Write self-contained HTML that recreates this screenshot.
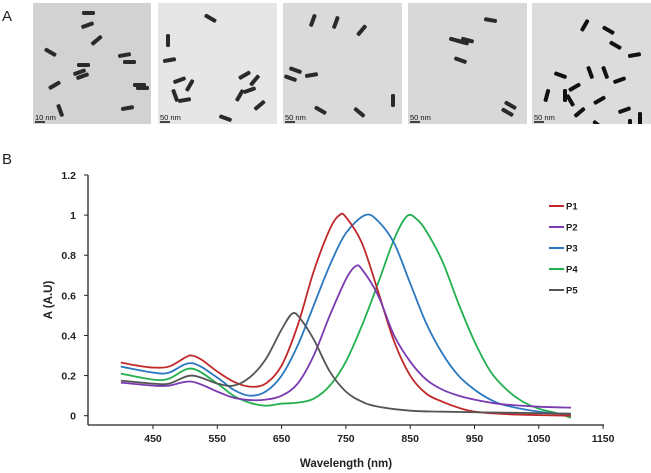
<!DOCTYPE html>
<html><head><meta charset="utf-8"><style>
body{margin:0;background:#fff;width:651px;height:473px;overflow:hidden;font-family:"Liberation Sans",Arial,sans-serif}
svg{display:block}
</style></head><body>
<svg id="fig" width="651" height="473" xmlns="http://www.w3.org/2000/svg">
<text x="2" y="21" font-size="15" fill="#222">A</text>
<text x="2" y="164" font-size="15" fill="#222">B</text>
<defs id="defs"></defs>
<g id="tem"></g>
<g id="chart"></g>
</svg>
<script>
const seriesNames=["P1","P2","P3","P4","P5"];
const seriesColors=["#c0282a","#7a3ab0","#2a78c0","#22b04e","#555555"];
const p1W=[400,425,450,475,500,510,525,550,575,600,625,650,675,700,725,740,750,775,800,825,850,875,900,925,950,1000,1050,1100];
const p1V=[0.265,0.25,0.24,0.245,0.29,0.30,0.28,0.22,0.17,0.145,0.16,0.25,0.45,0.72,0.93,1.0,0.99,0.86,0.62,0.37,0.2,0.11,0.07,0.04,0.02,0.008,0.003,0];
const p2W=[400,450,475,510,550,575,600,625,650,675,700,725,750,765,775,800,825,850,875,900,925,950,975,1000,1050,1100];
const p2V=[0.165,0.15,0.15,0.17,0.12,0.09,0.078,0.08,0.1,0.16,0.3,0.5,0.68,0.745,0.73,0.6,0.4,0.27,0.18,0.13,0.1,0.08,0.065,0.055,0.045,0.04];
const p3W=[400,450,475,510,550,575,600,625,650,675,700,725,750,780,800,825,850,875,900,925,950,975,1000,1050,1100];
const p3V=[0.245,0.215,0.215,0.262,0.19,0.13,0.1,0.12,0.2,0.35,0.55,0.75,0.91,1.0,0.97,0.86,0.66,0.46,0.31,0.2,0.13,0.08,0.05,0.02,0.005];
const p4W=[400,450,475,510,550,575,600,625,650,675,700,725,750,775,800,825,845,860,875,900,925,950,975,1000,1025,1050,1075,1100];
const p4V=[0.21,0.18,0.185,0.235,0.16,0.1,0.065,0.05,0.06,0.065,0.085,0.15,0.27,0.45,0.66,0.88,0.995,0.98,0.92,0.77,0.56,0.37,0.22,0.13,0.07,0.035,0.015,-0.01];
const p5W=[400,450,475,510,550,575,600,625,650,667,680,700,725,750,775,800,850,900,1000,1100];
const p5V=[0.175,0.16,0.16,0.2,0.16,0.15,0.19,0.28,0.43,0.51,0.48,0.38,0.22,0.12,0.07,0.045,0.025,0.02,0.015,0.01];
const seriesW=[p1W,p2W,p3W,p4W,p5W];
const seriesV=[p1V,p2V,p3V,p4V,p5V];
const xTicks=[450,550,650,750,850,950,1050,1150];
const yTicks=[0,0.2,0.4,0.6,0.8,1,1.2];
const yTickLabels=["0","0.2","0.4","0.6","0.8","1","1.2"];

const NS="http://www.w3.org/2000/svg";
function mk(tag,attrs,parent){const e=document.createElementNS(NS,tag);for(const k in attrs)e.setAttribute(k,attrs[k]);parent.appendChild(e);return e;}
const xs=w=>153+(w-450)*0.643;
const ys=v=>415.7-v*200.6;

const tem=document.getElementById('tem');
const defs=document.getElementById('defs');
const panels=[[33,151,"#d2d2d2","10 nm"],[158,277,"#e6e6e6","50 nm"],[283,402,"#dadada","50 nm"],[408,527,"#d8d8d8","50 nm"],[532,651,"#dcdcdc","50 nm"]];
const rods=[
[[89,13,90],[88,25,70],[97,40,50],[50,52,-60],[84,65,90],[55,85,60],[80,72,70],[83,76,70],[125,55,80],[130,62,90],[60,110,-20],[128,108,80],[143,88,90],[140,85,90]],
[[210,18,-60],[168,40,0],[170,60,80],[180,80,70],[190,85,30],[185,100,80],[175,95,-20],[245,75,60],[250,90,70],[260,105,50],[240,95,30],[255,80,40],[225,118,-70]],
[[313,20,20],[336,22,20],[362,30,40],[295,70,-70],[290,78,-70],[312,75,80],[393,100,0],[320,110,-60],[359,112,-50]],
[[455,40,-75],[462,42,-75],[467,40,-75],[490,20,-80],[460,60,-70],[510,105,-60],[507,112,-60]],
[[585,25,30],[608,30,-60],[565,95,0],[575,87,60],[590,72,-20],[605,72,-20],[620,80,70],[635,55,80],[600,100,60],[625,110,70],[547,95,15],[570,100,-30],[580,112,50],[640,118,0],[598,125,-50],[630,125,0],[560,75,-70],[615,45,-60]]
];
panels.forEach((p,i)=>{
  const cp=mk('clipPath',{id:'cp'+i},defs);
  mk('rect',{x:p[0],y:3,width:p[1]-p[0],height:121},cp);
  const g=mk('g',{'clip-path':`url(#cp${i})`},tem);
  const r=mk('rect',{x:p[0],y:3,width:p[1]-p[0],height:121,fill:p[2]},g);
  
  
  rods[i].forEach(d=>{mk('rect',{x:d[0]-2,y:d[1]-6,width:4,height:13,rx:1.5,fill:i==4?"#111":"#2a2a2a",transform:`rotate(${d[2]} ${d[0]} ${d[1]})`},g);});
  mk('line',{x1:p[0]+2,y1:122,x2:p[0]+12,y2:122,stroke:"#111","stroke-width":1.5},g);
  const t=mk('text',{x:p[0]+2,y:120,"font-size":7.5,fill:"#111"},g);t.textContent=p[3];
  
  
});

const ch=document.getElementById('chart');
mk('line',{x1:88,y1:175,x2:88,y2:425,stroke:"#222","stroke-width":1.3},ch);
mk('line',{x1:88,y1:425,x2:604,y2:425,stroke:"#222","stroke-width":1.3},ch);
yTicks.forEach((v,i)=>{
  const y=ys(v);
  mk('line',{x1:84,y1:y,x2:88,y2:y,stroke:"#222"},ch);
  const t=mk('text',{x:76,y:y+4,"font-size":10.5,"font-weight":"bold","text-anchor":"end",fill:"#222"},ch);t.textContent=yTickLabels[i];
  
  
});
xTicks.forEach(w=>{
  const x=xs(w);
  mk('line',{x1:x,y1:425,x2:x,y2:429,stroke:"#222"},ch);
  const t=mk('text',{x:x,y:442,"font-size":10.5,"font-weight":"bold","text-anchor":"middle",fill:"#222"},ch);t.textContent=w;
  
  
});
const xt=mk('text',{x:346,y:467,"font-size":11.5,"font-weight":"bold","text-anchor":"middle",fill:"#222"},ch);xt.textContent="Wavelength (nm)";


const yt=mk('text',{x:0,y:0,"font-size":11.5,"font-weight":"bold","text-anchor":"middle",fill:"#222",transform:"translate(52,300) rotate(-90)"},ch);yt.textContent="A (A.U)";



function pathFor(W,V){
  const P=W.map((w,i)=>[xs(w),ys(V[i])]);
  let d=`M${P[0][0]},${P[0][1]}`;
  for(let i=0;i<P.length-1;i++){
    const p0=P[Math.max(0,i-1)],p1=P[i],p2=P[i+1],p3=P[Math.min(P.length-1,i+2)];
    const c1=[p1[0]+(p2[0]-p0[0])/6,p1[1]+(p2[1]-p0[1])/6];
    const c2=[p2[0]-(p3[0]-p1[0])/6,p2[1]-(p3[1]-p1[1])/6];
    d+=`C${c1[0]},${c1[1]} ${c2[0]},${c2[1]} ${p2[0]},${p2[1]}`;
  }
  return d;
}
const order=[3,2,0,1,4];
order.forEach(i=>{
  const pth=mk('path',{d:pathFor(seriesW[i],seriesV[i]),fill:"none",stroke:seriesColors[i],"stroke-width":1.8},ch);
  
  
});
seriesNames.forEach((n,i)=>{
  const y=206+i*21;
  const g=mk('g',{},ch);
  
  
  mk('line',{x1:549,y1:y,x2:564,y2:y,stroke:seriesColors[i],"stroke-width":2},g);
  const t=mk('text',{x:566,y:y+3.5,"font-size":9.5,"font-weight":"bold",fill:"#222"},g);t.textContent=n;
});
</script>
</body></html>
